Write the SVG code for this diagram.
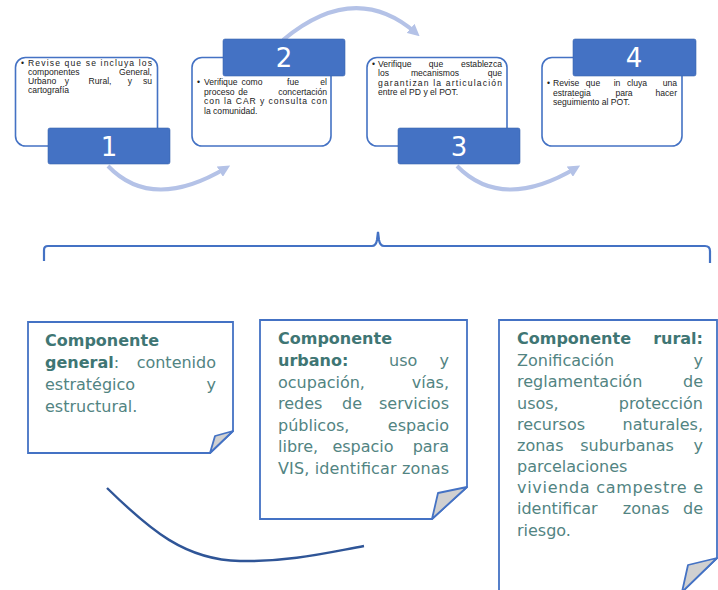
<svg xmlns="http://www.w3.org/2000/svg" width="718" height="590" viewBox="0 0 718 590">
<defs>
<style>
.box{fill:#fff;stroke:#4472C4;stroke-width:1.6}
.lab{fill:#4472C4;stroke:#3B64AE;stroke-width:0.6}
.num{font-family:"DejaVu Sans",sans-serif;font-size:26px;fill:#fff;text-anchor:middle}
.st{font-family:"Liberation Sans",Arial,sans-serif;font-size:8.6px;fill:#222}
.e{text-anchor:end}
.m{text-anchor:middle}
.arc{fill:none;stroke:#B4C2E7;stroke-width:4}
.note{fill:#fff;stroke:#4472C4;stroke-width:1.8}
.fold{fill:#D0D0D0;stroke:#4472C4;stroke-width:1.8;stroke-linejoin:round}
.bt{font-family:"DejaVu Sans",sans-serif;font-size:16px;fill:#528482}
.b{font-weight:bold;fill:#3F7674}
</style>
<marker id="ah" viewBox="0 0 10 10" refX="6" refY="5" markerWidth="3" markerHeight="3" orient="auto" markerUnits="strokeWidth">
<path d="M0,0 L10,5 L0,10 z" fill="#B4C2E7"/>
</marker>
</defs>

<g id="connectors">
<path class="arc" d="M108,166 Q152,212 226,168" marker-end="url(#ah)"/>
<path class="arc" d="M283,40 Q355,-20 416,33" marker-end="url(#ah)"/>
<path class="arc" d="M457,166 Q502,212 576,168" marker-end="url(#ah)"/>
<path d="M44,261 L44,250 Q44,246 48,246 L372,246 Q376,246 377,240 L378,232 L379,240 Q380,246 384,246 L705,246 Q710,246 710,251 L710,263" fill="none" stroke="#4472C4" stroke-width="2.2"/>
<path d="M107,488 C150,530 185,560 240,561 C290,562 330,552 364,546" fill="none" stroke="#2F5597" stroke-width="2.4"/>
</g>

<g id="step1">
<rect class="box" x="15.5" y="57.5" width="142" height="88.5" rx="10"/>
<text class="st" x="21" y="66">•</text>
<text class="st" x="28" y="66" textLength="124" lengthAdjust="spacing">Revise que se incluya los</text>
<text class="st" x="28" y="75">componentes</text><text class="st e" x="152" y="75">General,</text>
<text class="st" x="28" y="84">Urbano</text><text class="st m" x="67" y="84">y</text><text class="st m" x="100" y="84">Rural,</text><text class="st m" x="130" y="84">y</text><text class="st e" x="152" y="84">su</text>
<text class="st" x="28" y="93">cartografía</text>
<rect class="lab" x="48" y="128" width="122" height="36" rx="2"/>
<text class="num" x="109" y="156">1</text>
</g>

<g id="step2">
<rect class="box" x="192" y="57.5" width="139" height="88.5" rx="10"/>
<rect class="lab" x="223" y="39" width="122" height="37" rx="2"/>
<text class="num" x="284" y="67">2</text>
<text class="st" x="197" y="85">•</text>
<text class="st" x="204" y="85">Verifique</text><text class="st m" x="252" y="85">como</text><text class="st m" x="293" y="85">fue</text><text class="st e" x="327" y="85">el</text>
<text class="st" x="204" y="95">proceso</text><text class="st m" x="243" y="95">de</text><text class="st e" x="327" y="95">concertación</text>
<text class="st" x="204" y="104" textLength="123" lengthAdjust="spacing">con la CAR y consulta con</text>
<text class="st" x="204" y="114">la comunidad.</text>
</g>

<g id="step3">
<rect class="box" x="367" y="57.5" width="140" height="88.5" rx="10"/>
<text class="st" x="372" y="67">•</text>
<text class="st" x="378" y="67">Verifique</text><text class="st m" x="436" y="67">que</text><text class="st e" x="502" y="67">establezca</text>
<text class="st" x="378" y="76">los</text><text class="st m" x="435" y="76">mecanismos</text><text class="st e" x="502" y="76">que</text>
<text class="st" x="378" y="86" textLength="124" lengthAdjust="spacing">garantizan la articulación</text>
<text class="st" x="378" y="95">entre el PD y el POT.</text>
<rect class="lab" x="398" y="128" width="122" height="36" rx="2"/>
<text class="num" x="459" y="156">3</text>
</g>

<g id="step4">
<rect class="box" x="542" y="57.5" width="140" height="88.5" rx="10"/>
<rect class="lab" x="573" y="39" width="123" height="37" rx="2"/>
<text class="num" x="634" y="67">4</text>
<text class="st" x="547" y="86">•</text>
<text class="st" x="553" y="86">Revise</text><text class="st m" x="593" y="86">que</text><text class="st m" x="617" y="86">in</text><text class="st m" x="637" y="86">cluya</text><text class="st e" x="677" y="86">una</text>
<text class="st" x="553" y="96">estrategia</text><text class="st m" x="624" y="96">para</text><text class="st e" x="677" y="96">hacer</text>
<text class="st" x="553" y="105">seguimiento al POT.</text>
</g>

<g id="general">
<path class="note" d="M28,322 L233,322 L233,431 L210,453 L28,453 Z"/>
<path class="fold" d="M233,431 L215,436 L210,453 Z"/>
<text class="bt b" x="45" y="346">Componente</text>
<text class="bt" x="45" y="368"><tspan class="b">general</tspan>:</text><text class="bt e" x="216" y="368">contenido</text>
<text class="bt" x="45" y="390">estratégico</text><text class="bt e" x="216" y="390">y</text>
<text class="bt" x="45" y="412">estructural.</text>
</g>

<g id="urbano">
<path class="note" d="M260,320 L467,320 L467,487 L432,519 L260,519 Z"/>
<path class="fold" d="M467,487 L438,493 L432,519 Z"/>
<text class="bt b" x="278" y="344">Componente</text>
<text class="bt b" x="278" y="366">urbano:</text><text class="bt" x="389" y="366">uso</text><text class="bt e" x="449" y="366">y</text>
<text class="bt" x="278" y="388">ocupación,</text><text class="bt e" x="449" y="388">vías,</text>
<text class="bt" x="278" y="409">redes</text><text class="bt m" x="352" y="409">de</text><text class="bt e" x="449" y="409">servicios</text>
<text class="bt" x="278" y="431">públicos,</text><text class="bt e" x="449" y="431">espacio</text>
<text class="bt" x="278" y="452">libre,</text><text class="bt m" x="363" y="452">espacio</text><text class="bt e" x="449" y="452">para</text>
<text class="bt" x="278" y="474" textLength="171" lengthAdjust="spacing">VIS, identificar zonas</text>
</g>

<g id="rural">
<path class="note" d="M499,320 L717,320 L717,558 L682,592 L499,592 Z"/>
<path class="fold" d="M717,558 L688,565 L682,592 Z"/>
<text class="bt b" x="517" y="344">Componente</text><text class="bt b e" x="703" y="344">rural:</text>
<text class="bt" x="517" y="366">Zonificación</text><text class="bt e" x="703" y="366">y</text>
<text class="bt" x="517" y="387">reglamentación</text><text class="bt e" x="703" y="387">de</text>
<text class="bt" x="517" y="409">usos,</text><text class="bt e" x="703" y="409">protección</text>
<text class="bt" x="517" y="430">recursos</text><text class="bt e" x="703" y="430">naturales,</text>
<text class="bt" x="517" y="451">zonas</text><text class="bt m" x="627" y="451">suburbanas</text><text class="bt e" x="703" y="451">y</text>
<text class="bt" x="517" y="472">parcelaciones</text>
<text class="bt" x="517" y="493" textLength="186" lengthAdjust="spacing">vivienda campestre e</text>
<text class="bt" x="517" y="514">identificar</text><text class="bt m" x="646" y="514">zonas</text><text class="bt e" x="703" y="514">de</text>
<text class="bt" x="517" y="536">riesgo.</text>
</g>
</svg>
